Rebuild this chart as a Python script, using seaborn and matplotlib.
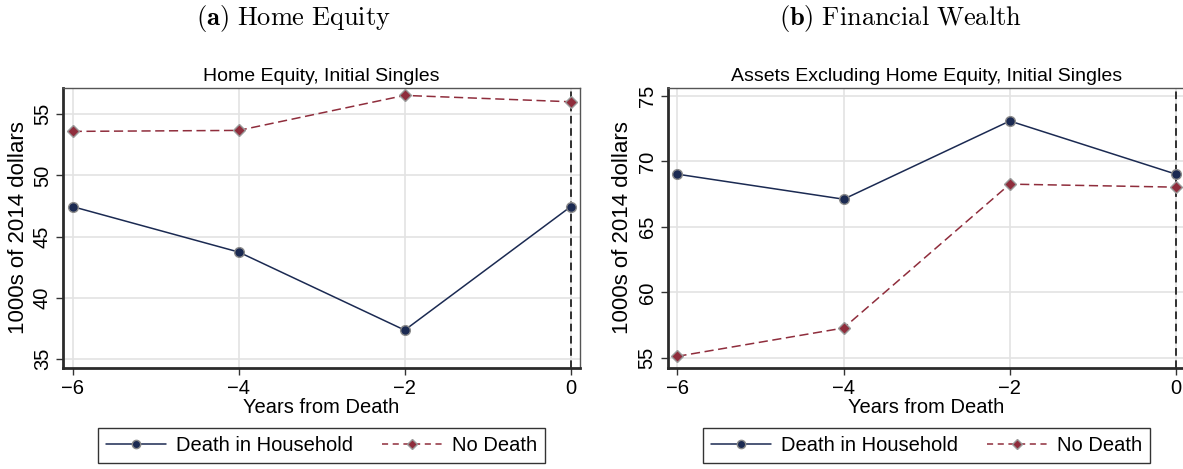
import matplotlib
matplotlib.use("Agg")
import matplotlib.pyplot as plt
import seaborn as sns
import pandas as pd
from matplotlib.lines import Line2D

sns.set_theme(style="white")
plt.rcParams['font.family'] = ['Liberation Sans', 'DejaVu Sans']
plt.rcParams['mathtext.fontset'] = 'cm'
plt.rcParams['text.color'] = 'black'
plt.rcParams['axes.labelcolor'] = 'black'
plt.rcParams['xtick.color'] = 'black'
plt.rcParams['ytick.color'] = 'black'

years = [-6, -4, -2, 0]
home_death = [47.45, 43.74, 37.36, 47.45]
home_nodeath = [53.60, 53.68, 56.54, 56.02]
fin_death = [69.03, 67.12, 73.09, 69.03]
fin_nodeath = [55.13, 57.29, 68.27, 68.04]

series_labels = ["Death in Household", "No Death"]
panel_titles = [r"$\mathbf{(a)}\ \mathrm{Home\ Equity}$", r"$\mathbf{(b)}\ \mathrm{Financial\ Wealth}$"]
inner_titles = ["Home Equity, Initial Singles", "Assets Excluding Home Equity, Initial Singles"]
yticks_list = [[35, 40, 45, 50, 55], [55, 60, 65, 70, 75]]
ylims = [(34.29, 57.17), (54.26, 75.63)]
xticks = [-6, -4, -2, 0]
xlabel = "Years from Death"
ylabel = "1000s of 2014 dollars"

NAVY = "#1b2a52"
MAROON = "#8f2d3c"

W, H = 1183, 469
fig = plt.figure(figsize=(W / 100, H / 100), dpi=100)
fig.patch.set_facecolor("white")

axes_px = [(63, 87.7, 580, 367.7), (667.7, 87.7, 1185.3, 367.7)]
data = [(home_death, home_nodeath), (fin_death, fin_nodeath)]
title_cx = [293, 900]

for i, (x0, y0, x1, y1) in enumerate(axes_px):
    ax = fig.add_axes([x0 / W, 1 - y1 / H, (x1 - x0) / W, (y1 - y0) / H])
    d, nd = data[i]
    df = pd.DataFrame({"year": years * 2,
                       "value": d + nd,
                       "series": [series_labels[0]] * 4 + [series_labels[1]] * 4})
    ax.axvline(0, color="black", lw=1.1, ls=(0, (5, 3)), zorder=1)
    sns.lineplot(data=df[df.series == series_labels[0]], x="year", y="value", ax=ax,
                 color=NAVY, lw=1.1, marker="o", markersize=7,
                 markerfacecolor=NAVY, markeredgecolor="#8a8a8a", markeredgewidth=1.0,
                 legend=False, zorder=3)
    sns.lineplot(data=df[df.series == series_labels[1]], x="year", y="value", ax=ax,
                 color=MAROON, lw=1.1, marker="D", markersize=6,
                 markerfacecolor=MAROON, markeredgecolor="#9a9a9a", markeredgewidth=1.0,
                 legend=False, zorder=3)
    ax.lines[-1].set_dashes([6, 3])
    ax.set_xlim(-6.117, 0.112)
    ax.set_ylim(*ylims[i])
    ax.set_xticks(xticks)
    ax.set_xticklabels(["\u2212" + str(-t) if t < 0 else str(t) for t in xticks])
    ax.set_yticks(yticks_list[i])
    ax.set_yticklabels([str(t) for t in yticks_list[i]], rotation=90, va="center")
    ax.grid(True, color="#e3e3e3", lw=1.2)
    ax.set_axisbelow(True)
    ax.tick_params(axis="both", which="both", direction="out", length=5, width=1,
                   color="#333333", labelcolor="black", labelsize=14.5,
                   left=True, bottom=True, pad=3)
    for s in ["left", "bottom"]:
        ax.spines[s].set_color("#2b2b2b")
        ax.spines[s].set_linewidth(2.0)
    for s in ["top", "right"]:
        ax.spines[s].set_color("#555555")
        ax.spines[s].set_linewidth(1.0)
    ax.set_xlabel(xlabel, fontsize=14.5, labelpad=0)
    ax.set_ylabel(ylabel, fontsize=16, labelpad=3)
    ax.set_title(inner_titles[i], fontsize=14, pad=5)
    handles = [
        Line2D([], [], color=NAVY, lw=1.1, marker="o", markersize=6,
               markerfacecolor=NAVY, markeredgecolor="#8a8a8a"),
        Line2D([], [], color=MAROON, lw=1.1, ls=(0, (4, 3)), marker="D", markersize=5,
               markerfacecolor=MAROON, markeredgecolor="#9a9a9a"),
    ]
    leg = ax.legend(handles, series_labels, loc="upper center",
                    bbox_to_anchor=(0.5, -0.215), borderaxespad=0, ncol=2, frameon=True,
                    fancybox=False, fontsize=14.5, handlelength=3.0,
                    columnspacing=1.4, handletextpad=0.5, borderpad=0.4)
    leg.get_frame().set_edgecolor("black")
    leg.get_frame().set_linewidth(1.0)
    fig.text(title_cx[i] / W, 1 - 19 / H, panel_titles[i], ha="center", va="center",
             fontsize=19)

fig.savefig("out.png", dpi=100, facecolor="white")
